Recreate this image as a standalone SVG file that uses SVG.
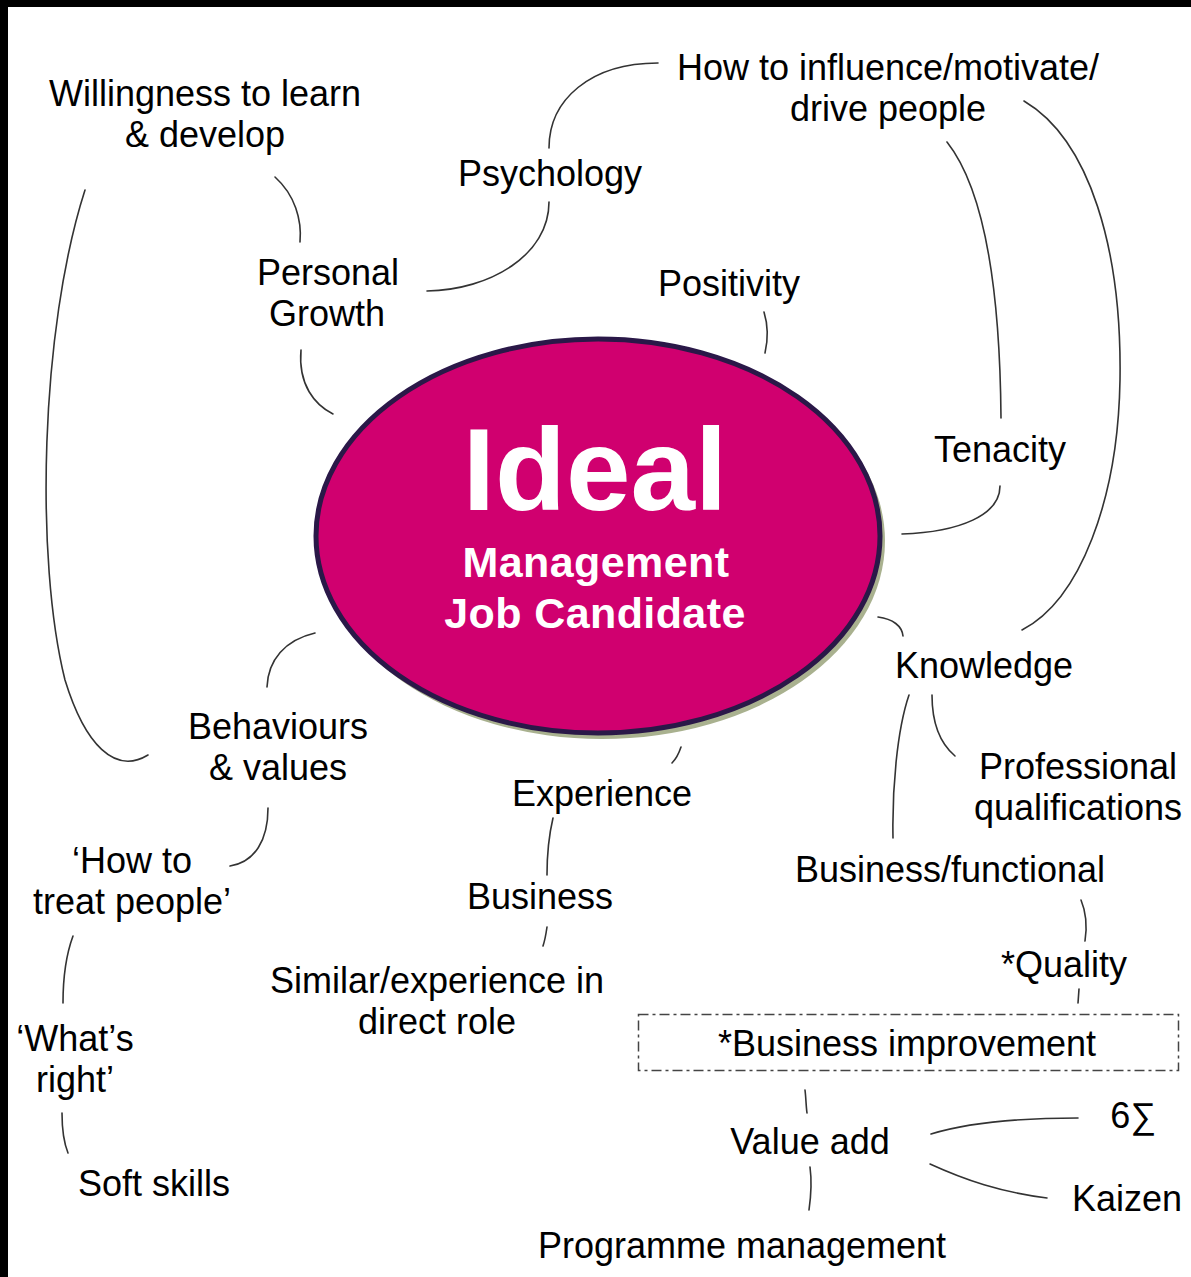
<svg xmlns="http://www.w3.org/2000/svg" width="1191" height="1277" viewBox="0 0 1191 1277">
  <style>
    .lbl { font-family: "Liberation Sans", Arial, sans-serif; font-size: 36px; fill: #000; text-anchor: middle; }
    .hub { font-family: "Liberation Sans", Arial, sans-serif; font-weight: bold; fill: #fff; text-anchor: middle; }
    .link { fill: none; stroke: #333; stroke-width: 1.6; stroke-linecap: round; }
  </style>

  <!-- page background with dark frame on top and left -->
  <rect x="0" y="0" width="1191" height="1277" fill="#fff"/>
  <rect x="0" y="0" width="1191" height="7" fill="#000"/>
  <rect x="0" y="0" width="8" height="1277" fill="#000"/>

  <!-- central node -->
  <g id="node-ideal">
    <ellipse cx="602" cy="541" rx="283" ry="198" fill="#a9b18f"/>
    <ellipse cx="598" cy="536" rx="282" ry="197" fill="#d0006f" stroke="#2a1848" stroke-width="5"/>
    <text class="hub" x="595" y="510" font-size="116">Ideal</text>
    <text class="hub" x="596" y="577" font-size="43" letter-spacing="0.4">Management</text>
    <text class="hub" x="595" y="628" font-size="43" letter-spacing="0.4">Job Candidate</text>
  </g>

  <!-- connectors -->
  <g id="connectors">
    <path class="link" d="M85,190 C40,330 35,560 65,680 C85,745 115,775 148,755"/>
    <path class="link" d="M275,177 C295,195 302,220 300,242"/>
    <path class="link" d="M301,350 C298,385 315,405 333,414"/>
    <path class="link" d="M549,148 C549,100 590,63 658,63"/>
    <path class="link" d="M549,202 C549,255 490,290 427,291"/>
    <path class="link" d="M764,312 C768,325 768,340 765,353"/>
    <path class="link" d="M947,142 C985,190 1000,290 1001,418"/>
    <path class="link" d="M1024,101 C1090,140 1122,250 1120,380 C1118,500 1080,600 1022,630"/>
    <path class="link" d="M1000,486 C1000,515 960,532 902,534"/>
    <path class="link" d="M878,617 C893,619 902,626 903,636"/>
    <path class="link" d="M909,695 C897,730 892,790 893,838"/>
    <path class="link" d="M932,695 C932,725 942,745 955,756"/>
    <path class="link" d="M1081,900 C1086,912 1087,928 1085,941"/>
    <path class="link" d="M1079,989 L1078,1003"/>
    <path class="link" d="M805,1090 C806,1098 806,1106 807,1113"/>
    <path class="link" d="M810,1167 C812,1182 811,1196 809,1210"/>
    <path class="link" d="M931,1134 C970,1122 1020,1118 1078,1118"/>
    <path class="link" d="M930,1164 C965,1180 1000,1192 1047,1198"/>
    <path class="link" d="M681,747 C679,753 676,759 672,763"/>
    <path class="link" d="M553,818 C549,835 547,855 547,875"/>
    <path class="link" d="M547,927 C546,934 545,940 543,946"/>
    <path class="link" d="M315,633 C285,640 268,660 267,687"/>
    <path class="link" d="M268,808 C268,840 255,862 230,866"/>
    <path class="link" d="M73,936 C66,955 63,980 63,1003"/>
    <path class="link" d="M62,1113 C62,1130 64,1143 68,1153"/>
  </g>

  <g id="node-willingness">
    <text class="lbl" x="205" y="106">Willingness to learn</text>
    <text class="lbl" x="205" y="147">&amp; develop</text>
  </g>
  <g id="node-influence">
    <text class="lbl" x="888" y="80">How to influence/motivate/</text>
    <text class="lbl" x="888" y="121">drive people</text>
  </g>
  <g id="node-psychology">
    <text class="lbl" x="550" y="186">Psychology</text>
  </g>
  <g id="node-personal-growth">
    <text class="lbl" x="328" y="285">Personal</text>
    <text class="lbl" x="327" y="326">Growth</text>
  </g>
  <g id="node-positivity">
    <text class="lbl" x="729" y="296">Positivity</text>
  </g>
  <g id="node-tenacity">
    <text class="lbl" x="1000" y="462">Tenacity</text>
  </g>
  <g id="node-knowledge">
    <text class="lbl" x="984" y="678">Knowledge</text>
  </g>
  <g id="node-professional">
    <text class="lbl" x="1078" y="779">Professional</text>
    <text class="lbl" x="1078" y="820">qualifications</text>
  </g>
  <g id="node-business-functional">
    <text class="lbl" x="950" y="882">Business/functional</text>
  </g>
  <g id="node-quality">
    <text class="lbl" x="1064" y="977">*Quality</text>
  </g>
  <g id="node-business-improvement">
    <rect x="638.5" y="1014.5" width="540" height="56" fill="none" stroke="#444" stroke-width="1.5" stroke-dasharray="10,4,3,4"/>
    <text class="lbl" x="907" y="1056">*Business improvement</text>
  </g>
  <g id="node-value-add">
    <text class="lbl" x="810" y="1154">Value add</text>
  </g>
  <g id="node-six-sigma">
    <text class="lbl" x="1133" y="1128">6∑</text>
  </g>
  <g id="node-kaizen">
    <text class="lbl" x="1127" y="1211">Kaizen</text>
  </g>
  <g id="node-programme">
    <text class="lbl" x="742" y="1258">Programme management</text>
  </g>
  <g id="node-experience">
    <text class="lbl" x="602" y="806">Experience</text>
  </g>
  <g id="node-business">
    <text class="lbl" x="540" y="909">Business</text>
  </g>
  <g id="node-similar">
    <text class="lbl" x="437" y="993">Similar/experience in</text>
    <text class="lbl" x="437" y="1034">direct role</text>
  </g>
  <g id="node-behaviours">
    <text class="lbl" x="278" y="739">Behaviours</text>
    <text class="lbl" x="278" y="780">&amp; values</text>
  </g>
  <g id="node-treat-people">
    <text class="lbl" x="132" y="873">‘How to</text>
    <text class="lbl" x="132" y="914">treat people’</text>
  </g>
  <g id="node-whats-right">
    <text class="lbl" x="75" y="1051">‘What’s</text>
    <text class="lbl" x="75" y="1092">right’</text>
  </g>
  <g id="node-soft-skills">
    <text class="lbl" x="154" y="1196">Soft skills</text>
  </g>
</svg>
